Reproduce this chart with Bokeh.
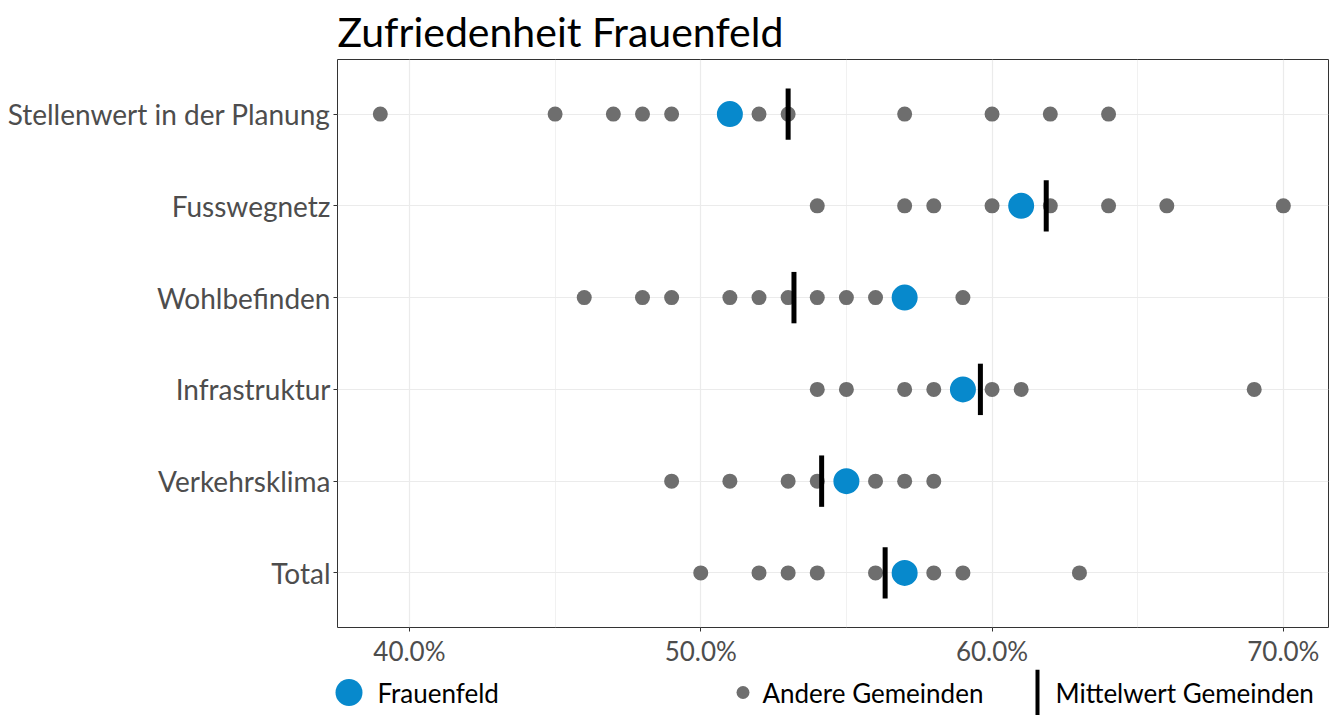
from bokeh.plotting import figure
from bokeh.models import FactorRange, Range1d, FixedTicker, NumeralTickFormatter, ColumnDataSource
from bokeh.layouts import column
from bokeh.embed import file_html
from bokeh.resources import INLINE
from bokeh.core.properties import value

# ---- data ----
categories = ["Total", "Verkehrsklima", "Infrastruktur", "Wohlbefinden", "Fusswegnetz", "Stellenwert in der Planung"]
frauenfeld = [0.57, 0.55, 0.59, 0.57, 0.61, 0.51]
mittelwert = [0.5633, 0.5415, 0.596, 0.532, 0.6186, 0.530]
andere_total = [0.50, 0.52, 0.53, 0.54, 0.56, 0.58, 0.59, 0.63]
andere_verkehrsklima = [0.49, 0.51, 0.53, 0.54, 0.56, 0.57, 0.58]
andere_infrastruktur = [0.54, 0.55, 0.57, 0.58, 0.60, 0.61, 0.69]
andere_wohlbefinden = [0.46, 0.48, 0.49, 0.51, 0.52, 0.53, 0.54, 0.55, 0.56, 0.59]
andere_fusswegnetz = [0.54, 0.57, 0.58, 0.60, 0.62, 0.64, 0.66, 0.70]
andere_stellenwert = [0.39, 0.45, 0.47, 0.48, 0.49, 0.52, 0.53, 0.57, 0.60, 0.62, 0.64]
x_ticks = [0.40, 0.50, 0.60, 0.70]
x_minor = [0.45, 0.55, 0.65]
legend_labels = ["Frauenfeld", "Andere Gemeinden", "Mittelwert Gemeinden"]

andere = [andere_total, andere_verkehrsklima, andere_infrastruktur,
          andere_wohlbefinden, andere_fusswegnetz, andere_stellenwert]

FONT = "Lato"
GREY = "#6E6E6E"
BLUE = "#0789CC"
LEFT = 337
RIGHT_PAD = 2
W = 1330

ox, oy = [], []
for cat, vals in zip(categories, andere):
    for v in vals:
        ox.append(v)
        oy.append(cat)

p = figure(width=W, height=669,
           y_range=FactorRange(factors=categories, range_padding=0.095, range_padding_units="absolute"),
           x_range=Range1d(0.3753, 0.7155),
           output_backend="svg", toolbar_location=None,
           min_border_left=LEFT, min_border_right=RIGHT_PAD, min_border_top=59, min_border_bottom=40,
           title="Zufriedenheit Frauenfeld")

p.title.text_font = FONT
p.title.text_font_size = "41px"
p.title.text_font_style = "normal"
p.title.text_color = "black"
p.title.align = "left"
p.title.standoff = 7

p.outline_line_color = "#333333"
p.outline_line_width = 1
p.outline_line_alpha = 1

p.xaxis.ticker = FixedTicker(ticks=x_ticks, minor_ticks=x_minor)
p.xaxis.formatter = NumeralTickFormatter(format="0.0%")
for ax in (p.xaxis, p.yaxis):
    ax.axis_line_color = None
    ax.major_tick_line_color = "#333333"
    ax.major_tick_out = 4
    ax.major_tick_in = 0
    ax.minor_tick_line_color = None
    ax.major_label_text_font = FONT
    ax.major_label_text_color = "#4D4D4D"
    ax.major_label_standoff = 3
p.xaxis.major_label_text_font_size = "26px"
p.yaxis.major_label_text_font_size = "28px"

p.xgrid.grid_line_color = "#EBEBEB"
p.xgrid.grid_line_width = 1.2
p.xgrid.minor_grid_line_color = "#EBEBEB"
p.xgrid.minor_grid_line_width = 0.7
p.ygrid.grid_line_color = "#EBEBEB"
p.ygrid.grid_line_width = 1.2

src_o = ColumnDataSource(dict(x=ox, y=oy))
p.scatter("x", "y", source=src_o, size=15, fill_color=GREY, line_color=None)

src_f = ColumnDataSource(dict(x=frauenfeld, y=categories))
p.scatter("x", "y", source=src_f, size=26, fill_color=BLUE, line_color=None)

src_m = ColumnDataSource(dict(x=mittelwert, y=categories))
p.rect("x", "y", source=src_m, width=5, width_units="screen", height=0.56,
       fill_color="black", line_color=None)

# ---- legend (x in page pixels) ----
LH = 46
lf = figure(width=W, height=LH, x_range=Range1d(LEFT, W - RIGHT_PAD), y_range=Range1d(0, LH),
            min_border_left=LEFT, min_border_right=RIGHT_PAD, min_border_top=0, min_border_bottom=0,
            output_backend="svg", toolbar_location=None)
try:
    lf.frame_align = False
    lf.min_border_left = 0
    lf.min_border_right = 0
    lf.x_range.start = 0
    lf.x_range.end = W
except Exception:
    pass
lf.axis.visible = False
lf.grid.visible = False
lf.outline_line_color = None

cy = LH - 23
lf.scatter([348.5], [cy], size=27, fill_color=BLUE, line_color=None)
lf.scatter([742.5], [cy], size=13, fill_color=GREY, line_color=None)
lf.segment([1037], [0], [1037], [LH], line_color="black", line_width=4)
lf.text([377, 762, 1055], [cy, cy, cy], text=legend_labels,
        text_font=value(FONT), text_font_size="26px", text_color="black",
        text_baseline="middle", text_align="left")

layout = column(p, lf, spacing=0)
open("out.html", "w").write(file_html(layout, INLINE))
